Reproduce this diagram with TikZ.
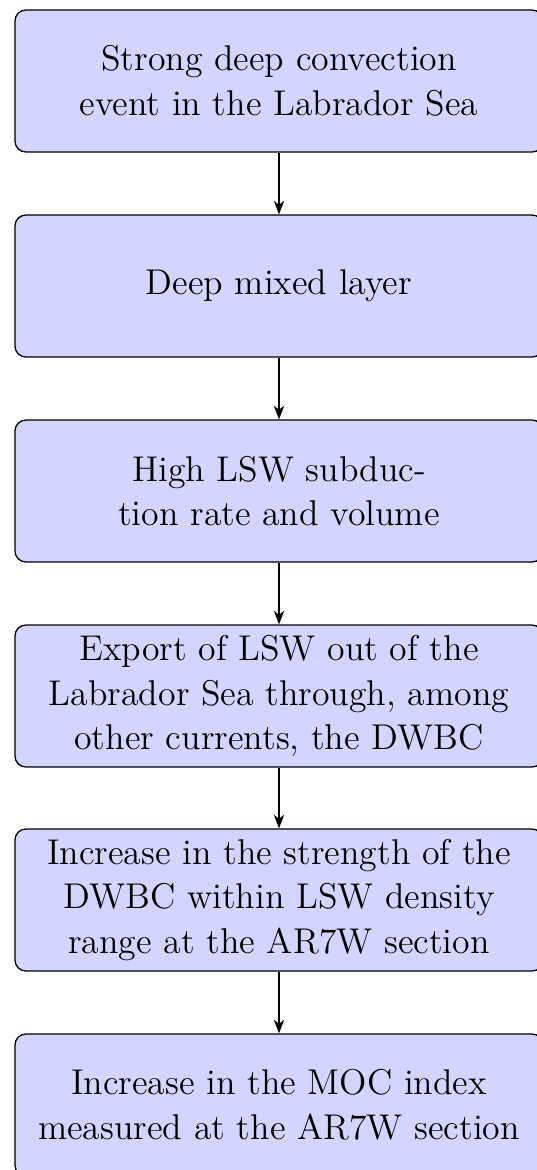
\documentclass[tikz,border=0pt]{standalone}
\usetikzlibrary{arrows.meta}
\definecolor{boxfill}{RGB}{209,213,255}
\begin{document}
\begin{tikzpicture}[x=0.3106pt,y=-0.3106pt,
  block/.style={rectangle, draw=black, line width=0.4pt, fill=boxfill,
    rounded corners=3.4pt, minimum width=164pt, minimum height=44.1pt,
    inner sep=0pt, align=center,
    font=\fontsize{11.12}{13.9}\selectfont},
  link/.style={draw=black, line width=0.45pt, -{Stealth[length=4.2pt,width=3.2pt,inset=1.2pt]}}]
\useasboundingbox (0,0) rectangle (536,1170);
\node[block] (b1) at (279,81) {Strong deep convection\\event in the Labrador Sea};
\node[block] (b2) at (279,286) {Deep mixed layer};
\node[block] (b3) at (279,491) {High LSW subduc-\\tion rate and volume};
\node[block] (b4) at (279,696) {Export of LSW out of the\\Labrador Sea through, among\\other currents, the DWBC};
\node[block] (b5) at (279,900) {Increase in the strength of the\\DWBC within LSW density\\range at the AR7W section};
\node[block] (b6) at (279,1105) {Increase in the MOC index\\measured at the AR7W section};
\draw[link] (b1) -- (b2);
\draw[link] (b2) -- (b3);
\draw[link] (b3) -- (b4);
\draw[link] (b4) -- (b5);
\draw[link] (b5) -- (b6);
\end{tikzpicture}
\end{document}
